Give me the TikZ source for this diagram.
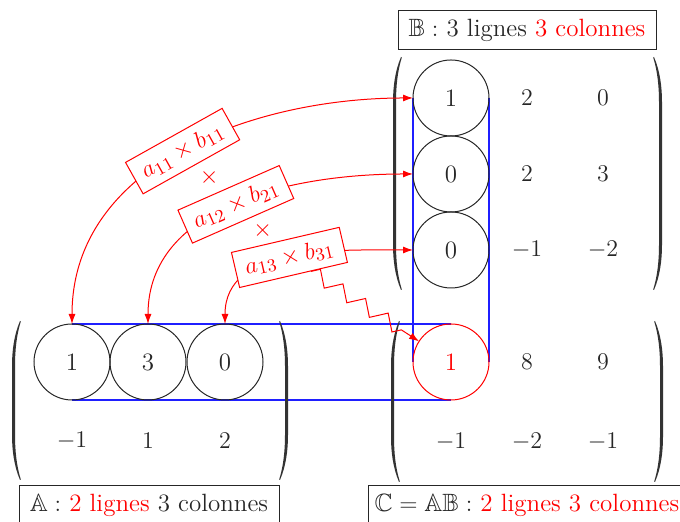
\documentclass[tikz,border=0pt]{standalone}
\usepackage{amssymb}
\usetikzlibrary{arrows.meta,calc,decorations.pathmorphing}
\definecolor{txt}{HTML}{262626}
\definecolor{parcol}{HTML}{333333}
\definecolor{guide}{HTML}{1F1FFF}
\pgfdeclarelayer{bg}
\pgfsetlayers{bg,main}
\newcommand\myParL[3]{\fill[parcol] (#1+8,#2) .. controls (#1+2,#2-14) and (#1,#2-30) .. (#1,#2-45) -- (#1,#3+45) .. controls (#1,#3+30) and (#1+2,#3+14) .. (#1+8,#3) -- (#1+8.8,#3+0.6) .. controls (#1+4.5,#3+14) and (#1+3,#3+30) .. (#1+3,#3+45) -- (#1+3,#2-45) .. controls (#1+3,#2-30) and (#1+4.5,#2-14) .. (#1+8.8,#2-0.6) -- cycle;}
\newcommand\myParR[3]{\fill[parcol] (#1-8,#2) .. controls (#1-2,#2-14) and (#1,#2-30) .. (#1,#2-45) -- (#1,#3+45) .. controls (#1,#3+30) and (#1-2,#3+14) .. (#1-8,#3) -- (#1-8.8,#3+0.6) .. controls (#1-4.5,#3+14) and (#1-3,#3+30) .. (#1-3,#3+45) -- (#1-3,#2-45) .. controls (#1-3,#2-30) and (#1-4.5,#2-14) .. (#1-8.8,#2-0.6) -- cycle;}
\begin{document}
\begin{tikzpicture}[x=0.5pt,y=0.5pt,
  every node/.style={font=\fontsize{12.5}{15}\selectfont},
  ent/.style={text=txt, inner sep=0pt},
  circ/.style={circle, draw=txt, line width=0.5pt, minimum size=38pt, inner sep=0pt, outer sep=0pt, text=txt},
  bl/.style={draw=guide, line width=0.6pt},
  redarr/.style={red, line width=0.5pt, {Latex[length=5pt,width=3.5pt]}-{Latex[length=5pt,width=3.5pt]}},
  lab/.style={draw=red, fill=white, text=red, line width=0.5pt, inner xsep=5pt, inner ysep=3pt, minimum height=18pt},
  timesmark/.style={fill=white, text=red, inner sep=1pt},
  ttl/.style={draw=txt, text=txt, line width=0.5pt, inner xsep=2pt, minimum height=19.5pt}
]
\useasboundingbox (0,0) rectangle (680,522);
% matrix A
\node[circ] (A11) at (72,160) {1};
\node[circ] (A12) at (148,160) {3};
\node[circ] (A13) at (225,160) {0};
\node[ent] (A21) at (72,81) {$-1$};
\node[ent] (A22) at (148,81) {$1$};
\node[ent] (A23) at (225,81) {$2$};
% matrix B
\node[circ] (B11) at (451,424) {1};
\node[ent] (B12) at (527,424) {$2$};
\node[ent] (B13) at (603,424) {$0$};
\node[circ] (B21) at (451,348) {0};
\node[ent] (B22) at (527,348) {$2$};
\node[ent] (B23) at (603,348) {$3$};
\node[circ] (B31) at (451,272) {0};
\node[ent] (B32) at (527,272) {$-1$};
\node[ent] (B33) at (603,272) {$-2$};
% matrix C
\node[circ, draw=red, text=red] (C11) at (451,160) {1};
\node[ent] (C12) at (527,160) {$8$};
\node[ent] (C13) at (603,160) {$9$};
\node[ent] (C21) at (451,80) {$-1$};
\node[ent] (C22) at (527,80) {$-2$};
\node[ent] (C23) at (603,80) {$-1$};
% blue guide lines (behind)
\begin{pgfonlayer}{bg}
\draw[bl] (A11.north) -- (C11.north);
\draw[bl] (A11.south) -- (C11.south);
\draw[bl] (B11.west) -- (C11.west);
\draw[bl] (B11.east) -- (C11.east);
\end{pgfonlayer}
% parentheses
\myParL{12}{201}{42}
\myParR{288}{201}{42}
\myParL{393}{465}{232}
\myParR{662}{465}{232}
\myParL{391}{201}{40}
\myParR{663}{201}{40}
% red arrows
\draw[redarr] (A11.north) to[out=90,in=180] node[lab,sloped] (lab1) {$a_{11}\times b_{11}$} (B11.west);
\draw[redarr] (A12.north) to[out=90,in=180] node[lab,sloped] (lab2) {$a_{12}\times b_{21}$} (B21.west);
\draw[redarr] (A13.north) to[out=90,in=180] node[lab,sloped] (lab3) {$a_{13}\times b_{31}$} (B31.west);
\node[timesmark] (t1) at ($(lab1)!0.5!(lab2)$) {$\times$};
\node[timesmark] (t2) at ($(lab2)!0.5!(lab3)$) {$\times$};
\draw[red, line width=0.5pt, -{Latex[length=5pt,width=3.5pt]}, decorate, decoration={zigzag, amplitude=3.45pt, segment length=13.45pt, post length=4pt}] (lab3) -- (C11);
% titles
\node[ttl, minimum width=129pt] (tB) at (527,491.5) {$\mathbb{B}:$ 3 lignes \textcolor{red}{3 colonnes}};
\node[ttl, minimum width=130pt] (tA) at (149,17) {$\mathbb{A}:$ \textcolor{red}{2 lignes} 3 colonnes};
\node[ttl, minimum width=159pt] (tC) at (527,17) {$\mathbb{C}=\mathbb{A}\mathbb{B}:$ \textcolor{red}{2 lignes 3 colonnes}};
\end{tikzpicture}
\end{document}
